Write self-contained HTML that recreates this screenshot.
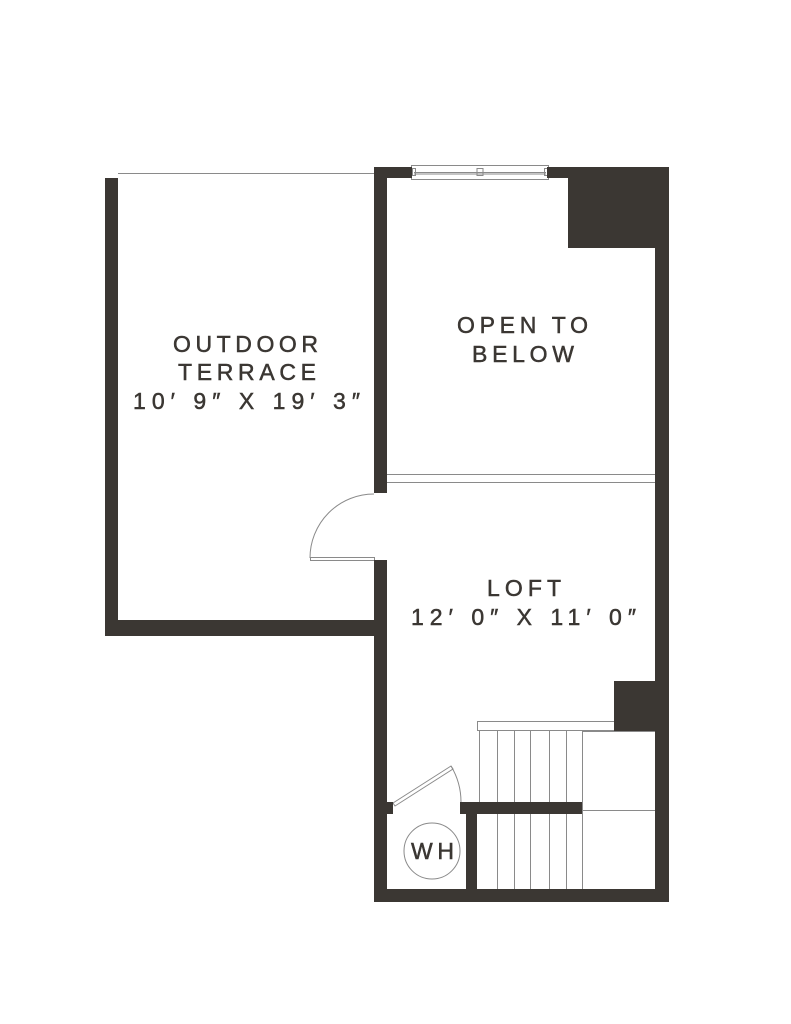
<!DOCTYPE html>
<html><head><style>html,body{margin:0;padding:0;background:#fff}svg{display:block}</style></head>
<body>
<svg width="791" height="1024" viewBox="0 0 791 1024" xmlns="http://www.w3.org/2000/svg">
<g fill="none" stroke="#8a8a8a" stroke-width="1">
<line x1="118" y1="173.5" x2="374" y2="173.5"/>
<rect x="411.5" y="165.5" width="137" height="14"/>
<line x1="414" y1="172.5" x2="546" y2="172.5"/>
<line x1="414" y1="174" x2="546" y2="174"/>
<rect x="477" y="168.5" width="6" height="7"/>
<rect x="412.5" y="168.5" width="3" height="7"/>
<rect x="544.5" y="168.5" width="3" height="7"/>
<line x1="387" y1="474.5" x2="655" y2="474.5"/>
<line x1="387" y1="482.5" x2="655" y2="482.5"/>
<path d="M374 494 A64 64 0 0 0 310 558"/>
<rect x="310.5" y="557.5" width="64" height="3"/>
<rect x="477.5" y="721.5" width="137" height="9"/>
<line x1="479.5" y1="731" x2="479.5" y2="802"/>
<line x1="497.5" y1="731" x2="497.5" y2="889"/>
<line x1="514.5" y1="731" x2="514.5" y2="889"/>
<line x1="530.5" y1="731" x2="530.5" y2="889"/>
<line x1="549.5" y1="731" x2="549.5" y2="889"/>
<line x1="566.5" y1="731" x2="566.5" y2="889"/>
<line x1="582.5" y1="731" x2="582.5" y2="889"/>
<line x1="582" y1="731.5" x2="655" y2="731.5"/>
<line x1="582" y1="810.5" x2="655" y2="810.5"/>
<polygon points="393,803 451,766 453,769 395,806"/>
<path d="M451 766 A70 70 0 0 1 461 802"/>
<circle cx="432" cy="851" r="28"/>
</g>
<g fill="#3b3733">
<rect x="105" y="178" width="13" height="458"/>
<rect x="105" y="620" width="282" height="16"/>
<rect x="374" y="167" width="13" height="326"/>
<rect x="374" y="560" width="13" height="342"/>
<rect x="374" y="167" width="38" height="11"/>
<rect x="547" y="167" width="122" height="11"/>
<rect x="568" y="167" width="101" height="81"/>
<rect x="655" y="167" width="14" height="735"/>
<rect x="374" y="889" width="295" height="13"/>
<rect x="614" y="681" width="55" height="50"/>
<rect x="460" y="802" width="122" height="12"/>
<rect x="466" y="802" width="11" height="87"/>
<rect x="387" y="802" width="6" height="12"/>
</g>
<g fill="#3b3733" stroke="#3b3733" stroke-width="0.5" font-family="Liberation Sans, sans-serif" font-size="23">
<text x="173" y="352" textLength="145" lengthAdjust="spacing">OUTDOOR</text>
<text x="178" y="380" textLength="138" lengthAdjust="spacing">TERRACE</text>
<text x="133" y="409" textLength="227" lengthAdjust="spacing">10′ 9″ X 19′ 3″</text>
<text x="457" y="333" textLength="131" lengthAdjust="spacing">OPEN TO</text>
<text x="472" y="362" textLength="102" lengthAdjust="spacing">BELOW</text>
<text x="487" y="596" textLength="74" lengthAdjust="spacing">LOFT</text>
<text x="411" y="625" textLength="225" lengthAdjust="spacing">12′ 0″ X 11′ 0″</text>
<text x="411" y="859" textLength="43" lengthAdjust="spacing">WH</text>
</g>
</svg>
</body></html>
